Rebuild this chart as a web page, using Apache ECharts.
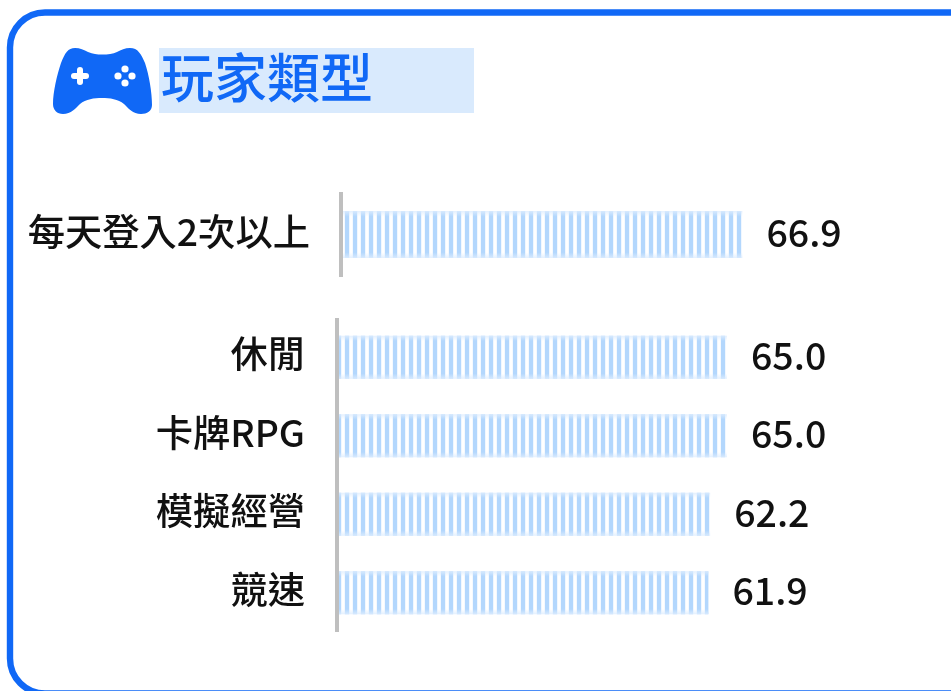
<!DOCTYPE html>
<html>
<head>
<meta charset="utf-8">
<style>html,body{margin:0;padding:0;background:#fff}#c{width:951px;height:691px}</style>
<script src="https://cdn.jsdelivr.net/npm/echarts@6/dist/echarts.min.js"></script>
</head>
<body>
<div id="c"></div>
<script>
const titleText = '玩家類型';
const topCategories = ['每天登入2次以上'];
const topValues = [66.9];
const lowerCategories = ['休閒', '卡牌RPG', '模擬經營', '競速'];
const lowerValues = [65.0, 65.0, 62.2, 61.9];

const FONT = '"Noto Sans CJK TC","Noto Sans",sans-serif';
const BLUE = '#1068f6';

echarts.graphic.registerShape('controllerIcon', echarts.graphic.extendPath(
  'M75 48C80 48 84 50 88 52C93 54 97 54.5 102 54.5C108 54.5 113 54 117 52C121 50 125 48 130 48C138 48 141 54 145 63C149 75 152 92 152 105C152 111 147 114 141 114C133 114 128 108 124 104C118 99 110 98 102 98C94 98 86 99 80 104C76 108 71 114 63 114C57 114 53 110 53 104C53 92 57 75 61 63C65 53 68 48 75 48Z',
  {}
));

const stripe = document.createElement('canvas');
stripe.width = 8; stripe.height = 2;
const sc = stripe.getContext('2d');
const stripeTones = ['#f4f9ff', '#b3d7fd', '#b3d7fd', '#b3d7fd', '#b3d7fd', '#f0f7ff', '#ffffff', '#ffffff'];
stripeTones.forEach((c, i) => { sc.fillStyle = c; sc.fillRect(i, 0, 1, 2); });

const fade = {
  type: 'linear', x: 0, y: 0, x2: 0, y2: 1,
  colorStops: [
    { offset: 0, color: 'rgba(222,237,254,0.85)' },
    { offset: 0.12, color: 'rgba(222,237,254,0)' },
    { offset: 0.88, color: 'rgba(222,237,254,0)' },
    { offset: 1, color: 'rgba(222,237,254,0.85)' }
  ]
};

function barPair(values, axisIndex, width) {
  return [
    {
      type: 'bar', data: values, xAxisIndex: axisIndex, yAxisIndex: axisIndex,
      barWidth: width, barGap: '-100%', silent: true, animation: false,
      itemStyle: { color: { image: stripe, repeat: 'repeat' } },
      label: {
        show: true, position: 'right', distance: 24, offset: [0, -2],
        formatter: p => p.value.toFixed(1),
        fontFamily: FONT, fontSize: 37.5, fontWeight: 500, color: '#111'
      }
    },
    {
      type: 'bar', data: values, xAxisIndex: axisIndex, yAxisIndex: axisIndex,
      barWidth: width, barGap: '-100%', silent: true, animation: false,
      itemStyle: { color: fade }
    }
  ];
}

function yAxis(cats, gridIndex, margin) {
  return {
    type: 'category', data: cats, gridIndex, inverse: true, z: 5,
    axisLine: { show: true, lineStyle: { color: '#bfbfbf', width: 4, cap: 'butt' } },
    axisTick: { show: false },
    axisLabel: { margin, verticalAlign: 'bottom', lineHeight: 6, fontFamily: FONT, fontSize: 37.3, fontWeight: 500, color: '#111', interval: 0 }
  };
}

const chart = echarts.init(document.getElementById('c'), null, { renderer: 'canvas' });
chart.setOption({
  animation: false,
  backgroundColor: '#fff',
  title: {
    text: titleText, left: 161, top: 46,
    textStyle: { fontFamily: FONT, fontSize: 53, fontWeight: 500, color: BLUE, lineHeight: 64 },
    padding: 0
  },
  grid: [
    { left: 341, top: 192, width: 600, height: 85 },
    { left: 337, top: 318, width: 600, height: 314 }
  ],
  xAxis: [
    { type: 'value', gridIndex: 0, min: 0, max: 100, show: false },
    { type: 'value', gridIndex: 1, min: 0, max: 100, show: false }
  ],
  yAxis: [yAxis(topCategories, 0, 31), yAxis(lowerCategories, 1, 32)],
  series: [...barPair(topValues, 0, 47), ...barPair(lowerValues, 1, 43)],
  graphic: [
    { type: 'rect', z: -1, shape: { x: 10, y: 12.5, width: 1000, height: 681, r: 35 },
      style: { fill: '#fff', stroke: BLUE, lineWidth: 6.4 } },
    { type: 'rect', z: 0, shape: { x: 159, y: 48, width: 315, height: 65 }, style: { fill: '#d9eafd' } },
    { type: 'controllerIcon', z: 1, style: { fill: BLUE } },
    { type: 'rect', z: 2, shape: { x: 71, y: 73, width: 18, height: 6, r: 3 }, style: { fill: '#fff' } },
    { type: 'rect', z: 2, shape: { x: 77, y: 67, width: 6, height: 18, r: 3 }, style: { fill: '#fff' } },
    { type: 'circle', z: 2, shape: { cx: 125, cy: 69, r: 3.6 }, style: { fill: '#fff' } },
    { type: 'circle', z: 2, shape: { cx: 125, cy: 83, r: 3.6 }, style: { fill: '#fff' } },
    { type: 'circle', z: 2, shape: { cx: 118, cy: 76, r: 3.6 }, style: { fill: '#fff' } },
    { type: 'circle', z: 2, shape: { cx: 132, cy: 76, r: 3.6 }, style: { fill: '#fff' } }
  ]
});
</script>
</body>
</html>
